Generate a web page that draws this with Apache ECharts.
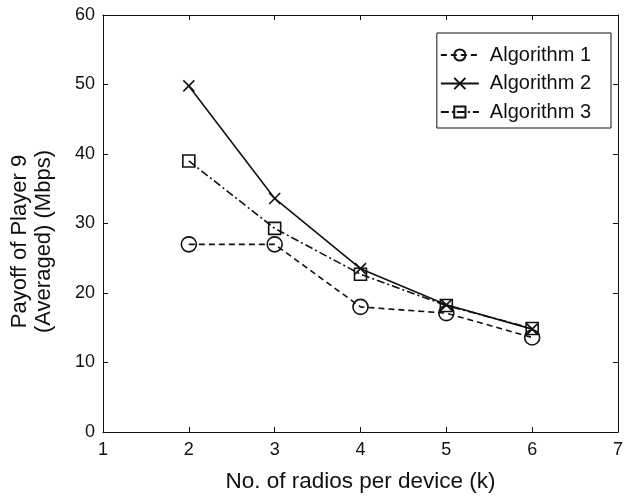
<!DOCTYPE html>
<html><head><meta charset="utf-8">
<script src="https://cdn.jsdelivr.net/npm/echarts@6/dist/echarts.min.js"></script>
<style>html,body{margin:0;padding:0;background:#fff}#c{width:626px;height:498px}</style>
</head><body><div id="c"></div>
<script>
const radios = [2, 3, 4, 5, 6];
const alg1 = [27, 27, 18, 17.1, 13.6];
const alg2 = [49.8, 33.6, 23.5, 18.3, 14.8];
const alg3 = [39, 29.3, 22.7, 18.2, 14.9];
const seriesNames = ['Algorithm 1', 'Algorithm 2', 'Algorithm 3'];

const FONT = '"Liberation Sans", Arial, Helvetica, sans-serif';
const INK = '#111';
const crossPath = 'path://M0,0L10,10M10,0L0,10';
const squarePath = 'path://M0,0L10,0L10,10L0,10Z';
const circlePath = 'path://M10,5A5,5,0,1,1,0,5A5,5,0,1,1,10,5Z';

function mk(name, vals, symbol, size, dash) {
  return {
    name, type: 'line',
    data: radios.map((x, i) => [x, vals[i]]),
    symbol, symbolSize: size,
    lineStyle: { color: INK, width: 1.6, type: dash },
    itemStyle: { color: 'rgba(0,0,0,0)', borderColor: INK, borderWidth: 1.6 },
    emphasis: { disabled: true },
    animation: false, z: 3
  };
}

const chart = echarts.init(document.getElementById('c'), null, { renderer: 'canvas' });
const axisCommon = {
  axisLine: { show: true, onZero: false, lineStyle: { color: INK, width: 1 } },
  axisTick: { show: true, inside: true, length: 5, lineStyle: { color: INK } },
  splitLine: { show: false }
};
chart.setOption({
  animation: false,
  textStyle: { fontFamily: FONT },
  grid: { left: 101, right: 5, top: 15, bottom: 63 },
  legend: {
    data: seriesNames,
    orient: 'vertical',
    right: 15, top: 33,
    padding: [12, 20, 6, 3],
    itemGap: 8.5,
    itemWidth: 38, itemHeight: 14,
    borderColor: INK, borderWidth: 1,
    backgroundColor: '#fff',
    textStyle: { fontFamily: FONT, fontSize: 20, color: INK, padding: [0, 0, 0, 6] },
    itemStyle: { color: 'rgba(0,0,0,0)' }
  },
  xAxis: [
    Object.assign({ type: 'value', min: 1, max: 7, interval: 1,
      name: 'No. of radios per device (k)', nameLocation: 'middle', nameGap: 38,
      nameTextStyle: { fontFamily: FONT, fontSize: 22.5, color: INK },
      axisLabel: { fontFamily: FONT, fontSize: 18, color: INK, margin: 9 } }, axisCommon),
    Object.assign({ type: 'value', min: 1, max: 7, interval: 1, position: 'top',
      axisLabel: { show: false } }, axisCommon)
  ],
  yAxis: [
    Object.assign({ type: 'value', min: 0, max: 60, interval: 10,
      name: 'Payoff of Player 9\n(Averaged) (Mbps)', nameLocation: 'middle', nameGap: 47,
      nameRotate: 90,
      nameTextStyle: { fontFamily: FONT, fontSize: 22, color: INK, lineHeight: 24, padding: [0, 36, 0, 0] },
      axisLabel: { fontFamily: FONT, fontSize: 18, color: INK, margin: 8 } }, axisCommon),
    Object.assign({ type: 'value', min: 0, max: 60, interval: 10, position: 'right',
      axisLabel: { show: false } }, axisCommon)
  ],
  series: [
    mk(seriesNames[0], alg1, circlePath, 15, [6, 4]),
    mk(seriesNames[1], alg2, crossPath, 11, 'solid'),
    mk(seriesNames[2], alg3, squarePath, 12, [8, 3, 2, 3])
  ]
});
</script></body></html>
